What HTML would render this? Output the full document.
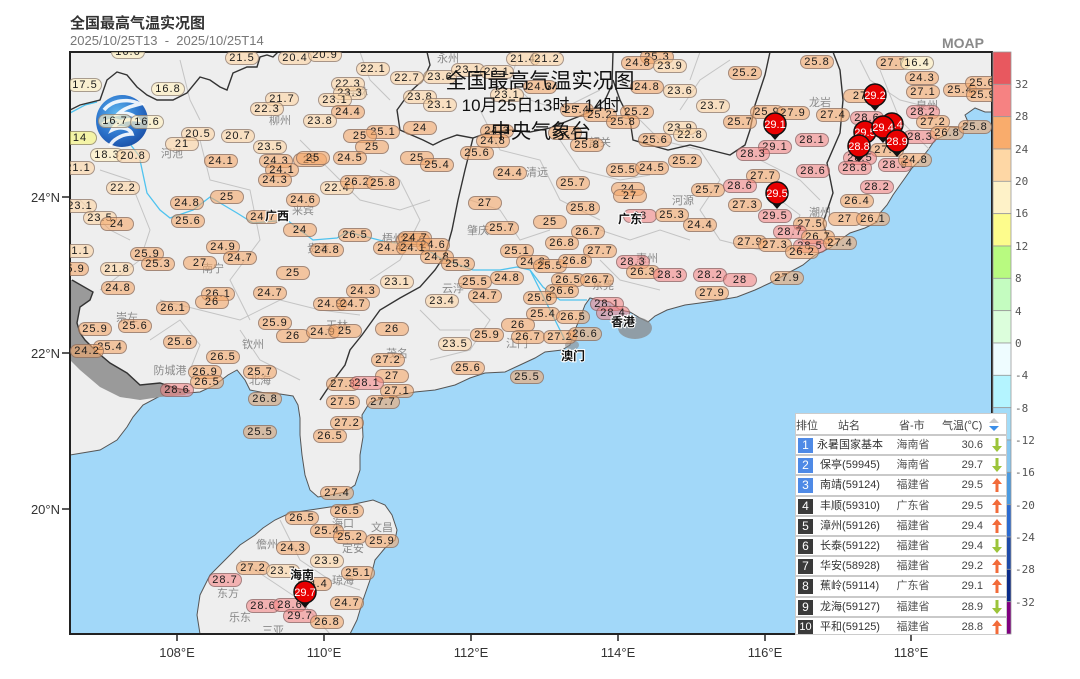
<!DOCTYPE html>
<html><head><meta charset="utf-8">
<style>
*{margin:0;padding:0}
body{width:1080px;height:679px;background:#fff;position:relative;overflow:hidden;font-family:"Liberation Sans","Noto Sans CJK SC",sans-serif}
#clip{position:absolute;left:70px;top:52px;width:922px;height:582px;overflow:hidden}
#inn{position:absolute;left:-70px;top:-52px;width:1080px;height:679px}
#inn b{position:absolute;width:34px;height:14px;margin:-7px 0 0 -17px;border-radius:7px;border:1px solid rgba(100,88,88,.55);box-sizing:border-box;font:11px/12px "Liberation Sans",sans-serif;text-align:center;color:#1a1a1a;font-weight:normal;letter-spacing:1px}
.a{background:rgba(255,240,195,.68)}
.b{background:rgba(253,213,165,.62)}
.c{background:rgba(245,168,106,.6)}
.d{background:rgba(245,128,128,.55)}
.e{background:rgba(248,248,120,.6)}
.t{position:absolute;white-space:nowrap}
#tb{position:absolute;left:795px;top:413px;width:212px;height:222px;background:#fff;border:1px solid #ccc;box-sizing:border-box;overflow:hidden;font:11px "Liberation Sans","Noto Sans CJK SC",sans-serif;color:#444}
#tb .r{position:absolute;left:0;width:212px;height:20px;border-top:2px solid #c9c9c9;box-sizing:border-box}
#tb .k{position:absolute;left:2px;top:2px;width:15px;height:15px;color:#fff;font-size:12px;line-height:15px;text-align:center}
#tb .n{position:absolute;left:21px;top:2px;line-height:15px;color:#333}
#tb .p{position:absolute;left:100px;width:34px;text-align:center;top:2px;line-height:15px;color:#555}
#tb .v{position:absolute;right:25px;top:2px;line-height:15px;color:#444}
#tb .w{position:absolute;left:196px;top:2px}
</style></head><body>

<div class="t" style="left:70px;top:12px;font-size:15px;font-weight:bold;color:#333">全国最高气温实况图</div>
<div class="t" style="left:70px;top:33px;font-size:13px;color:#777">2025/10/25T13 &nbsp;- &nbsp;2025/10/25T14</div>
<div class="t" style="left:942px;top:35px;font-size:14px;font-weight:bold;color:#8a8a8a">MOAP</div>

<svg width="1080" height="679" style="position:absolute;left:0;top:0">
<defs><clipPath id="cp"><rect x="70" y="52" width="922" height="582"/></clipPath>
<radialGradient id="lg" cx="0.4" cy="0.35" r="0.7"><stop offset="0" stop-color="#5fb6ee"/><stop offset="0.6" stop-color="#2c74cc"/><stop offset="1" stop-color="#1b4fa6"/></radialGradient></defs>
<g clip-path="url(#cp)">
<rect x="70" y="52" width="922" height="582" fill="#a2d8f9"/>
<path d="M70,52 L992,52 L992,112 L985,112 L975,108 L965,115 L968,122 L960,128 L950,127 L945,135 L935,140 L928,150 L920,160 L912,168 L905,178 L900,185 L893,195 L887,205 L880,213 L877,222 L865,228 L850,233 L840,240 L830,248 L815,255 L803,265 L790,272 L770,283 L755,290 L737,297 L720,300 L700,303 L685,305 L667,310 L655,316 L648,322 L640,318 L630,312 L620,310 L610,302 L598,300 L590,298 L585,305 L580,318 L575,330 L570,345 L562,350 L545,352 L535,358 L520,365 L505,372 L485,373 L470,378 L455,385 L435,390 L415,392 L400,395 L385,398 L370,402 L362,415 L363,437 L360,455 L360,470 L355,485 L345,492 L330,495 L318,497 L310,490 L305,475 L302,455 L300,435 L300,418 L298,405 L293,396 L280,394 L265,393 L250,390 L245,380 L237,370 L228,375 L215,385 L200,392 L188,393 L160,396 L143,405 L133,417 L127,427 L117,440 L100,450 L70,455 Z" fill="#eeeeee" stroke="#555" stroke-width="1"/>
<path d="M70,280 L72,280 L93,292 L90,300 L80,307 L77,323 L80,333 L85,340 L97,352 L110,363 L127,373 L140,385 L160,383 L175,388 L190,391 L185,395 L160,397 L140,400 L120,397 L100,387 L80,370 L70,360 Z" fill="#9a9a9a"/>
<path d="M263,528 L275,520 L290,513 L310,510 L330,507 L350,505 L373,500 L385,505 L392,515 L397,530 L395,540 L385,548 L375,560 L370,580 L363,600 L357,620 L350,634 L200,634 L197,615 L200,595 L210,575 L225,560 L240,545 L255,535 Z" fill="#eeeeee" stroke="#555" stroke-width="1"/>
<ellipse cx="635" cy="328" rx="17" ry="11" fill="#8a8a8a" opacity=".75"/>
<ellipse cx="572" cy="345" rx="7" ry="5" fill="#8a8a8a" opacity=".6"/>
<g fill="none" stroke="#c4c4c4" stroke-width="1">
<path d="M100,170 L130,180 L150,230 L140,260 L100,290"/>
<path d="M200,140 L210,180 L250,190 L260,240 L230,280 L250,320"/>
<path d="M300,140 L330,170 L360,200 L400,210 L430,200"/>
<path d="M160,300 L200,310 L240,320 L280,300 L320,310 L360,315"/>
<path d="M240,330 L260,360 L300,380"/>
<path d="M380,170 L400,180 L420,220 L400,260 L370,280"/>
<path d="M480,110 L500,150 L540,160 L560,200 L600,220"/>
<path d="M470,200 L500,210 L520,240 L550,230"/>
<path d="M560,140 L580,170 L620,180 L650,175"/>
<path d="M640,120 L660,140 L700,150 L720,180 L700,210 L720,240 L760,250"/>
<path d="M730,60 L700,80 L680,110"/>
<path d="M760,160 L800,180 L820,200"/>
<path d="M860,60 L870,80 L900,100 L940,110"/>
<path d="M470,300 L490,320 L470,350 L430,360"/>
<path d="M600,230 L630,240 L660,230 L690,240"/>
<path d="M280,520 L300,560 L330,580 L360,590"/>
<path d="M240,560 L270,580 L300,600 L330,634"/>
<path d="M80,200 L110,230 L130,240"/>
<path d="M180,60 L190,100 L200,120"/>
<path d="M360,52 L370,80 L390,100"/>
<path d="M520,52 L510,80 L530,100 L560,110 L600,90"/>
<path d="M700,52 L690,80"/>
<path d="M780,200 L800,215 L790,240"/>
<path d="M880,70 L900,120 L930,150"/>
<path d="M420,310 L440,330 L470,330"/>
<path d="M600,260 L620,280 L660,290"/>
<path d="M150,340 L180,320 L200,345 L190,370"/>
</g>
<g fill="none" stroke="#4fc3ef" stroke-width="1.3">
<path d="M140,160 L147,193 L160,210 L170,218 L193,210 L210,197 L237,213 L253,223 L287,220 L313,240 L337,238 L347,232 L387,242 L420,245 L440,258 L473,270 L500,270 L517,267 L530,270 L543,287 L560,300 L587,300"/>
<path d="M530,270 L545,300 L555,320 L565,340"/>
<path d="M120,130 L127,140 L140,157"/>
<path d="M70,113 L85,105 L97,102"/>
</g>
<g fill="none" stroke="#333" stroke-width="1.4">
<path d="M70,110 L80,105 L100,100 L107,80 L117,72 L127,75 L137,87 L147,95 L157,100 L173,100 L187,93 L200,77 L210,80 L220,87 L227,90 L233,73 L247,67 L257,67 L260,57 L267,55 L273,57 L278,52"/>
<path d="M427,52 L430,65 L423,80 L410,92 L397,110 L400,130 L423,140 L433,145 L443,140 L457,135 L473,138 L465,170 L458,200 L452,230 L445,255 L435,270 L420,287 L400,298 L380,310 L362,335 L350,350 L345,365 L330,385 L320,400"/>
<path d="M473,138 L490,132 L510,130 L530,132 L550,128 L570,120 L590,112 L605,100 L612,85 L613,52"/>
<path d="M613,80 L620,100 L630,120 L633,140 L650,145 L668,150 L690,145 L710,150 L730,155 L745,145 L750,130 L755,105 L765,75 L770,52"/>
<path d="M833,52 L840,70 L843,100 L840,133 L827,163 L833,193 L823,223 L830,245"/>
<path d="M72,280 L93,292 L90,300 L80,307 L77,323 L80,333 L85,340 L97,352 L110,363 L127,373 L140,385 L160,383 L175,388 L190,391"/>
</g>
<g font-size="11" fill="#8a8a8a" font-family="Liberation Sans,Noto Sans CJK SC,sans-serif" text-anchor="middle">
<text x="280" y="124">柳州</text><text x="172" y="157">河池</text><text x="303" y="214">来宾</text><text x="318" y="252">贵港</text>
<text x="213" y="272">南宁</text><text x="127" y="321">崇左</text><text x="253" y="348">钦州</text><text x="170" y="374">防城港</text>
<text x="260" y="384">北海</text><text x="337" y="329">玉林</text><text x="393" y="242">梧州</text><text x="397" y="357">茂名</text>
<text x="448" y="62">永州</text><text x="357" y="96">桂林</text><text x="478" y="234">肇庆</text><text x="453" y="292">云浮</text>
<text x="517" y="347">江门</text><text x="537" y="176">清远</text><text x="600" y="146">韶关</text><text x="683" y="204">河源</text>
<text x="647" y="262">惠州</text><text x="603" y="289">东莞</text><text x="820" y="106">龙岩</text><text x="927" y="109">泉州</text>
<text x="820" y="216">潮州</text><text x="343" y="527">海口</text><text x="382" y="531">文昌</text><text x="353" y="552">定安</text>
<text x="267" y="548">儋州</text><text x="343" y="584">琼海</text><text x="228" y="597">东方</text><text x="240" y="621">乐东</text><text x="273" y="634">三亚</text>
</g>
<circle cx="122" cy="121" r="26" fill="url(#lg)"/>
<path d="M104,110 C112,100 128,98 140,104 C132,106 124,108 118,114 C126,112 134,114 138,120 C126,118 116,122 112,130 C120,126 130,128 132,134 C122,134 112,140 110,146" fill="none" stroke="#fff" stroke-width="3.5" opacity=".9"/>
<path d="M102,124 C110,118 118,118 124,124" fill="none" stroke="#cfe9fb" stroke-width="2.5"/>
</g>
<rect x="70" y="52" width="922" height="582" fill="none" stroke="#222" stroke-width="2"/>
<g stroke="#222" stroke-width="1.5">
<line x1="62" y1="197" x2="70" y2="197"/><line x1="62" y1="353" x2="70" y2="353"/><line x1="62" y1="509" x2="70" y2="509"/>
<line x1="177" y1="634" x2="177" y2="641"/><line x1="324" y1="634" x2="324" y2="641"/><line x1="471" y1="634" x2="471" y2="641"/><line x1="618" y1="634" x2="618" y2="641"/><line x1="765" y1="634" x2="765" y2="641"/><line x1="911" y1="634" x2="911" y2="641"/>
</g>
<g font-size="13" fill="#333" font-family="Liberation Sans,sans-serif">
<g text-anchor="end"><text x="60" y="202">24°N</text><text x="60" y="358">22°N</text><text x="60" y="514">20°N</text></g>
<g text-anchor="middle"><text x="177" y="657">108°E</text><text x="324" y="657">110°E</text><text x="471" y="657">112°E</text><text x="618" y="657">114°E</text><text x="765" y="657">116°E</text><text x="911" y="657">118°E</text></g>
</g>
<g stroke="#999" stroke-width="0.8">
<rect x="993" y="52" width="18" height="32.33" fill="#e8585f"/>
<rect x="993" y="84.33" width="18" height="32.33" fill="#f68282"/>
<rect x="993" y="116.67" width="18" height="32.33" fill="#f9ac6c"/>
<rect x="993" y="149" width="18" height="32.33" fill="#fed7a5"/>
<rect x="993" y="181.33" width="18" height="32.33" fill="#fef2c8"/>
<rect x="993" y="213.67" width="18" height="32.33" fill="#fdfc8c"/>
<rect x="993" y="246" width="18" height="32.33" fill="#b8fa80"/>
<rect x="993" y="278.33" width="18" height="32.33" fill="#c4fcc0"/>
<rect x="993" y="310.67" width="18" height="32.33" fill="#dcfedc"/>
<rect x="993" y="343" width="18" height="32.33" fill="#eefcff"/>
<rect x="993" y="375.33" width="18" height="32.33" fill="#b4f4ff"/>
<rect x="993" y="407.67" width="18" height="32.33" fill="#a2dcf8"/>
<rect x="993" y="440" width="18" height="32.33" fill="#86c6f0"/>
<rect x="993" y="472.33" width="18" height="32.33" fill="#4a9ae0"/>
<rect x="993" y="504.67" width="18" height="32.33" fill="#2a6ad0"/>
<rect x="993" y="537" width="18" height="32.33" fill="#1e4aa8"/>
<rect x="993" y="569.33" width="18" height="32.33" fill="#0a2a88"/>
<rect x="993" y="601.67" width="18" height="32.33" fill="#800080"/>
</g>
<g font-size="11" fill="#555" font-family="DejaVu Sans Mono,Liberation Mono,monospace">
<text x="1015" y="88">32</text><text x="1015" y="120">28</text><text x="1015" y="153">24</text><text x="1015" y="185">20</text><text x="1015" y="217">16</text><text x="1015" y="250">12</text><text x="1015" y="282">8</text><text x="1015" y="315">4</text><text x="1015" y="347">0</text><text x="1015" y="379">-4</text><text x="1015" y="412">-8</text><text x="1015" y="444">-12</text><text x="1015" y="476">-16</text><text x="1015" y="509">-20</text><text x="1015" y="541">-24</text><text x="1015" y="573">-28</text><text x="1015" y="606">-32</text>
</g>
</svg>

<div id="clip"><div id="inn">
<b class=a style=left:128px;top:52px>16.6</b>
<b class=a style=left:85px;top:85px>17.5</b>
<b class=a style=left:168px;top:89px>16.8</b>
<b class=a style=left:115px;top:121px>16.7</b>
<b class=a style=left:147px;top:122px>16.6</b>
<b class=e style=left:80px;top:138px>14</b>
<b class=b style=left:198px;top:134px>20.5</b>
<b class=b style=left:182px;top:144px>21</b>
<b class=b style=left:238px;top:136px>20.7</b>
<b class=a style=left:107px;top:155px>18.3</b>
<b class=b style=left:133px;top:156px>20.8</b>
<b class=b style=left:78px;top:168px>21.1</b>
<b class=b style=left:242px;top:58px>21.5</b>
<b class=b style=left:295px;top:58px>20.4</b>
<b class=b style=left:325px;top:55px>20.9</b>
<b class=b style=left:282px;top:99px>21.7</b>
<b class=b style=left:267px;top:109px>22.3</b>
<b class=b style=left:270px;top:147px>23.5</b>
<b class=c style=left:221px;top:161px>24.1</b>
<b class=c style=left:276px;top:161px>24.3</b>
<b class=c style=left:310px;top:160px>25</b>
<b class=c style=left:282px;top:170px>24.1</b>
<b class=c style=left:275px;top:180px>24.3</b>
<b class=b style=left:348px;top:84px>22.3</b>
<b class=b style=left:350px;top:93px>23.3</b>
<b class=b style=left:335px;top:100px>23.1</b>
<b class=c style=left:348px;top:112px>24.4</b>
<b class=b style=left:320px;top:121px>23.8</b>
<b class=b style=left:373px;top:69px>22.1</b>
<b class=b style=left:407px;top:78px>22.7</b>
<b class=b style=left:440px;top:77px>23.6</b>
<b class=b style=left:468px;top:70px>23.1</b>
<b class=b style=left:497px;top:72px>23.1</b>
<b class=b style=left:420px;top:97px>23.8</b>
<b class=b style=left:440px;top:105px>23.1</b>
<b class=b style=left:523px;top:59px>21.4</b>
<b class=b style=left:547px;top:59px>21.2</b>
<b class=c style=left:540px;top:87px>24.3</b>
<b class=b style=left:507px;top:95px>23.1</b>
<b class=c style=left:577px;top:110px>25.4</b>
<b class=c style=left:600px;top:115px>25.2</b>
<b class=c style=left:637px;top:112px>25.2</b>
<b class=c style=left:623px;top:122px>25.8</b>
<b class=c style=left:647px;top:87px>24.8</b>
<b class=b style=left:680px;top:91px>23.6</b>
<b class=b style=left:713px;top:106px>23.7</b>
<b class=c style=left:740px;top:122px>25.7</b>
<b class=c style=left:657px;top:57px>25.3</b>
<b class=c style=left:638px;top:63px>24.8</b>
<b class=b style=left:670px;top:66px>23.9</b>
<b class=c style=left:383px;top:132px>25.1</b>
<b class=c style=left:360px;top:136px>25</b>
<b class=c style=left:372px;top:147px>25</b>
<b class=c style=left:420px;top:128px>24</b>
<b class=c style=left:313px;top:158px>25</b>
<b class=c style=left:350px;top:158px>24.5</b>
<b class=c style=left:417px;top:158px>25</b>
<b class=c style=left:437px;top:165px>25.4</b>
<b class=c style=left:477px;top:153px>25.6</b>
<b class=c style=left:497px;top:131px>24.3</b>
<b class=c style=left:493px;top:141px>24.8</b>
<b class=c style=left:565px;top:133px>25.4</b>
<b class=c style=left:587px;top:145px>25.8</b>
<b class=b style=left:337px;top:188px>22.4</b>
<b class=c style=left:357px;top:182px>26.2</b>
<b class=c style=left:383px;top:183px>25.8</b>
<b class=c style=left:510px;top:173px>24.4</b>
<b class=c style=left:573px;top:183px>25.7</b>
<b class=c style=left:485px;top:203px>27</b>
<b class=c style=left:583px;top:208px>25.8</b>
<b class=c style=left:655px;top:140px>25.6</b>
<b class=b style=left:680px;top:128px>23.9</b>
<b class=b style=left:690px;top:135px>22.8</b>
<b class=c style=left:623px;top:170px>25.5</b>
<b class=c style=left:652px;top:168px>24.5</b>
<b class=c style=left:685px;top:161px>25.2</b>
<b class=c style=left:628px;top:189px>24</b>
<b class=c style=left:630px;top:196px>27</b>
<b class=c style=left:708px;top:190px>25.7</b>
<b class=d style=left:640px;top:216px>28</b>
<b class=c style=left:672px;top:215px>25.3</b>
<b class=c style=left:700px;top:225px>24.4</b>
<b class=b style=left:123px;top:188px>22.2</b>
<b class=b style=left:80px;top:206px>23.1</b>
<b class=b style=left:100px;top:218px>23.5</b>
<b class=c style=left:117px;top:224px>24</b>
<b class=c style=left:187px;top:203px>24.8</b>
<b class=c style=left:188px;top:221px>25.6</b>
<b class=c style=left:227px;top:197px>25</b>
<b class=c style=left:303px;top:200px>24.6</b>
<b class=c style=left:263px;top:217px>24.7</b>
<b class=c style=left:300px;top:230px>24</b>
<b class=c style=left:355px;top:235px>26.5</b>
<b class=c style=left:327px;top:250px>24.8</b>
<b class=c style=left:390px;top:248px>24.4</b>
<b class=c style=left:413px;top:240px>24.6</b>
<b class=b style=left:77px;top:251px>21.1</b>
<b class=c style=left:147px;top:254px>25.9</b>
<b class=c style=left:158px;top:264px>25.3</b>
<b class=b style=left:117px;top:269px>21.8</b>
<b class=c style=left:223px;top:247px>24.9</b>
<b class=c style=left:240px;top:258px>24.7</b>
<b class=c style=left:200px;top:263px>27</b>
<b class=c style=left:72px;top:269px>25.9</b>
<b class=c style=left:118px;top:288px>24.8</b>
<b class=c style=left:293px;top:273px>25</b>
<b class=b style=left:397px;top:282px>23.1</b>
<b class=c style=left:363px;top:291px>24.3</b>
<b class=c style=left:218px;top:294px>26.1</b>
<b class=c style=left:212px;top:302px>26</b>
<b class=c style=left:270px;top:293px>24.7</b>
<b class=c style=left:330px;top:304px>24.9</b>
<b class=c style=left:353px;top:304px>24.7</b>
<b class=c style=left:173px;top:308px>26.1</b>
<b class=c style=left:95px;top:329px>25.9</b>
<b class=c style=left:135px;top:326px>25.6</b>
<b class=c style=left:275px;top:323px>25.9</b>
<b class=c style=left:293px;top:336px>26</b>
<b class=c style=left:323px;top:332px>24.9</b>
<b class=c style=left:345px;top:331px>25</b>
<b class=c style=left:392px;top:329px>26</b>
<b class=c style=left:110px;top:347px>25.4</b>
<b class=c style=left:87px;top:351px>24.2</b>
<b class=c style=left:180px;top:342px>25.6</b>
<b class=c style=left:223px;top:357px>26.5</b>
<b class=c style=left:388px;top:360px>27.2</b>
<b class=c style=left:392px;top:376px>27</b>
<b class=c style=left:205px;top:372px>26.9</b>
<b class=c style=left:207px;top:382px>26.5</b>
<b class=c style=left:260px;top:372px>25.7</b>
<b class=d style=left:177px;top:390px>28.6</b>
<b class=c style=left:343px;top:384px>27.3</b>
<b class=d style=left:367px;top:383px>28.1</b>
<b class=c style=left:397px;top:391px>27.1</b>
<b class=c style=left:265px;top:399px>26.8</b>
<b class=c style=left:343px;top:402px>27.5</b>
<b class=c style=left:383px;top:402px>27.7</b>
<b class=c style=left:260px;top:432px>25.5</b>
<b class=c style=left:347px;top:423px>27.2</b>
<b class=c style=left:330px;top:436px>26.5</b>
<b class=c style=left:337px;top:493px>27.4</b>
<b class=c style=left:347px;top:511px>26.5</b>
<b class=c style=left:302px;top:518px>26.5</b>
<b class=c style=left:327px;top:531px>25.4</b>
<b class=c style=left:350px;top:537px>25.2</b>
<b class=c style=left:382px;top:541px>25.9</b>
<b class=c style=left:293px;top:548px>24.3</b>
<b class=b style=left:327px;top:561px>23.9</b>
<b class=c style=left:253px;top:568px>27.2</b>
<b class=b style=left:283px;top:571px>23.7</b>
<b class=c style=left:358px;top:573px>25.1</b>
<b class=c style=left:315px;top:584px>24.4</b>
<b class=c style=left:347px;top:603px>24.7</b>
<b class=d style=left:225px;top:580px>28.7</b>
<b class=d style=left:263px;top:606px>28.6</b>
<b class=d style=left:290px;top:605px>28.6</b>
<b class=d style=left:300px;top:616px>29.7</b>
<b class=c style=left:327px;top:622px>26.8</b>
<b class=c style=left:502px;top:228px>25.7</b>
<b class=c style=left:550px;top:222px>25</b>
<b class=c style=left:588px;top:232px>26.7</b>
<b class=c style=left:415px;top:238px>24.7</b>
<b class=c style=left:433px;top:245px>24.6</b>
<b class=c style=left:413px;top:248px>24.1</b>
<b class=c style=left:437px;top:257px>24.8</b>
<b class=c style=left:458px;top:264px>25.3</b>
<b class=c style=left:562px;top:243px>26.8</b>
<b class=c style=left:517px;top:251px>25.1</b>
<b class=c style=left:600px;top:251px>27.7</b>
<b class=c style=left:533px;top:262px>24.8</b>
<b class=c style=left:550px;top:266px>25.5</b>
<b class=c style=left:575px;top:261px>26.8</b>
<b class=c style=left:475px;top:282px>25.5</b>
<b class=c style=left:507px;top:278px>24.8</b>
<b class=c style=left:568px;top:280px>26.5</b>
<b class=c style=left:597px;top:280px>26.7</b>
<b class=c style=left:562px;top:291px>26.6</b>
<b class=c style=left:485px;top:296px>24.7</b>
<b class=c style=left:540px;top:298px>25.6</b>
<b class=b style=left:442px;top:301px>23.4</b>
<b class=c style=left:543px;top:314px>25.4</b>
<b class=c style=left:573px;top:317px>26.5</b>
<b class=d style=left:607px;top:304px>28.1</b>
<b class=d style=left:613px;top:313px>28.4</b>
<b class=c style=left:518px;top:325px>26</b>
<b class=c style=left:487px;top:335px>25.9</b>
<b class=c style=left:528px;top:337px>26.7</b>
<b class=c style=left:560px;top:337px>27.2</b>
<b class=c style=left:585px;top:334px>26.6</b>
<b class=b style=left:455px;top:344px>23.5</b>
<b class=c style=left:468px;top:368px>25.6</b>
<b class=c style=left:527px;top:377px>25.5</b>
<b class=d style=left:633px;top:262px>28.3</b>
<b class=c style=left:643px;top:272px>26.3</b>
<b class=d style=left:670px;top:275px>28.3</b>
<b class=d style=left:710px;top:275px>28.2</b>
<b class=c style=left:712px;top:293px>27.9</b>
<b class=c style=left:817px;top:62px>25.8</b>
<b class=c style=left:745px;top:73px>25.2</b>
<b class=c style=left:893px;top:63px>27.7</b>
<b class=a style=left:917px;top:63px>16.4</b>
<b class=c style=left:922px;top:78px>24.3</b>
<b class=c style=left:923px;top:92px>27.1</b>
<b class=c style=left:960px;top:90px>25.4</b>
<b class=c style=left:982px;top:83px>25.6</b>
<b class=c style=left:983px;top:95px>25.9</b>
<b class=c style=left:860px;top:96px>27</b>
<b class=c style=left:767px;top:112px>25.9</b>
<b class=c style=left:793px;top:113px>27.9</b>
<b class=c style=left:833px;top:115px>27.4</b>
<b class=d style=left:923px;top:112px>28.2</b>
<b class=c style=left:933px;top:122px>27.2</b>
<b class=d style=left:775px;top:147px>29.1</b>
<b class=d style=left:753px;top:154px>28.3</b>
<b class=d style=left:812px;top:140px>28.1</b>
<b class=d style=left:920px;top:137px>28.3</b>
<b class=c style=left:947px;top:133px>26.8</b>
<b class=c style=left:975px;top:127px>25.8</b>
<b class=d style=left:867px;top:118px>28.6</b>
<b class=c style=left:887px;top:150px>27.5</b>
<b class=d style=left:860px;top:158px>28.5</b>
<b class=d style=left:855px;top:168px>28.8</b>
<b class=d style=left:895px;top:165px>28.9</b>
<b class=c style=left:915px;top:160px>24.8</b>
<b class=d style=left:813px;top:171px>28.6</b>
<b class=c style=left:763px;top:176px>27.7</b>
<b class=d style=left:740px;top:186px>28.6</b>
<b class=d style=left:877px;top:187px>28.2</b>
<b class=c style=left:745px;top:205px>27.3</b>
<b class=c style=left:857px;top:201px>26.4</b>
<b class=d style=left:775px;top:216px>29.5</b>
<b class=c style=left:810px;top:224px>27.5</b>
<b class=c style=left:845px;top:219px>27</b>
<b class=c style=left:873px;top:219px>26.1</b>
<b class=d style=left:790px;top:232px>28.7</b>
<b class=c style=left:818px;top:237px>26.7</b>
<b class=c style=left:750px;top:242px>27.9</b>
<b class=c style=left:775px;top:245px>27.3</b>
<b class=d style=left:810px;top:246px>28.5</b>
<b class=c style=left:840px;top:243px>27.4</b>
<b class=c style=left:802px;top:252px>26.2</b>
<b class=d style=left:740px;top:280px>28</b>
<b class=c style=left:787px;top:278px>27.9</b>
</div></div>

<svg width="1080" height="679" style="position:absolute;left:0;top:0">
<g font-family="Liberation Sans,Noto Sans CJK SC,sans-serif" font-size="12" fill="#111" text-anchor="middle" font-weight="bold" stroke="#fff" stroke-width="2" paint-order="stroke">
<text x="277" y="220">广西</text><text x="630" y="223">广东</text><text x="623" y="326">香港</text><text x="573" y="360">澳门</text><text x="302" y="579">海南</text>
</g>
<g font-family="Liberation Sans,sans-serif" font-size="11" text-anchor="middle">
<g><path d="M868,103 L875,111 L882,103Z" fill="#111"/><circle cx="875" cy="95" r="11" fill="#e80000" stroke="#111" stroke-width="1.5"/><text x="875" y="99" fill="#fff">29.2</text></g>
<g><path d="M768,132 L775,140 L782,132Z" fill="#111"/><circle cx="775" cy="124" r="11" fill="#e80000" stroke="#111" stroke-width="1.5"/><text x="775" y="128" fill="#fff">29.1</text></g>
<g><path d="M770,201 L777,209 L784,201Z" fill="#111"/><circle cx="777" cy="193" r="11" fill="#e80000" stroke="#111" stroke-width="1.5"/><text x="777" y="197" fill="#fff">29.5</text></g>
<g><path d="M298,600 L305,608 L312,600Z" fill="#111"/><circle cx="305" cy="592" r="11" fill="#e80000" stroke="#111" stroke-width="1.5"/><text x="305" y="596" fill="#fff">29.7</text></g>
<g><path d="M885,132 L892,140 L899,132Z" fill="#111"/><circle cx="892" cy="124" r="11" fill="#e80000" stroke="#111" stroke-width="1.5"/><text x="892" y="128" fill="#fff">29.4</text></g>
<g><path d="M858,140 L865,148 L872,140Z" fill="#111"/><circle cx="865" cy="132" r="11" fill="#e80000" stroke="#111" stroke-width="1.5"/><text x="865" y="136" fill="#fff">29.5</text></g>
<g><path d="M876,135 L883,143 L890,135Z" fill="#111"/><circle cx="883" cy="127" r="11" fill="#e80000" stroke="#111" stroke-width="1.5"/><text x="883" y="131" fill="#fff">29.4</text></g>
<g><path d="M852,154 L859,162 L866,154Z" fill="#111"/><circle cx="859" cy="146" r="11" fill="#e80000" stroke="#111" stroke-width="1.5"/><text x="859" y="150" fill="#fff">28.8</text></g>
<g><path d="M890,149 L897,157 L904,149Z" fill="#111"/><circle cx="897" cy="141" r="11" fill="#e80000" stroke="#111" stroke-width="1.5"/><text x="897" y="145" fill="#fff">28.9</text></g>
</g>
<g font-family="Liberation Sans,Noto Sans CJK SC,sans-serif" fill="#111" text-anchor="middle">
<text x="540" y="88" font-size="21">全国最高气温实况图</text>
<text x="541" y="111" font-size="17">10月25日13时 - 14时</text>
<text x="541" y="138" font-size="20">中央气象台</text>
</g>
</svg>

<div id="tb">
<div class="t" style="left:0;top:3px;color:#444">排位</div>
<div class="t" style="left:42px;top:3px;color:#444">站名</div>
<div class="t" style="left:103px;top:3px;color:#444">省-市</div>
<div class="t" style="left:146px;top:3px;color:#444">气温(℃)</div>
<svg class="t" style="left:192px;top:3px" width="12" height="15"><path d="M1,6 L6,1 L11,6Z" fill="#c8c8c8"/><path d="M1,9 L11,9 L6,14Z" fill="#3b8ee8"/></svg>

<div class="r" style="top:20px"><div class="k" style="background:#4f8ae6">1</div><div class="n">永暑国家基本</div><div class="p">海南省</div><div class="v">30.6</div><svg class="w" width="10" height="14"><path d="M3.5,0 L6.5,0 L6.5,8 L10,8 L5,14 L0,8 L3.5,8Z" fill="#9cc43a"/></svg></div>
<div class="r" style="top:40.2px"><div class="k" style="background:#4f8ae6">2</div><div class="n">&nbsp;保亭(59945)</div><div class="p">海南省</div><div class="v">29.7</div><svg class="w" width="10" height="14"><path d="M3.5,0 L6.5,0 L6.5,8 L10,8 L5,14 L0,8 L3.5,8Z" fill="#9cc43a"/></svg></div>
<div class="r" style="top:60.4px"><div class="k" style="background:#4f8ae6">3</div><div class="n">&nbsp;南靖(59124)</div><div class="p">福建省</div><div class="v">29.5</div><svg class="w" width="10" height="14"><path d="M5,0 L10,6 L6.5,6 L6.5,14 L3.5,14 L3.5,6 L0,6Z" fill="#f26b3a"/></svg></div>
<div class="r" style="top:80.6px"><div class="k" style="background:#3a3a3a">4</div><div class="n">&nbsp;丰顺(59310)</div><div class="p">广东省</div><div class="v">29.5</div><svg class="w" width="10" height="14"><path d="M5,0 L10,6 L6.5,6 L6.5,14 L3.5,14 L3.5,6 L0,6Z" fill="#f26b3a"/></svg></div>
<div class="r" style="top:100.8px"><div class="k" style="background:#3a3a3a">5</div><div class="n">&nbsp;漳州(59126)</div><div class="p">福建省</div><div class="v">29.4</div><svg class="w" width="10" height="14"><path d="M5,0 L10,6 L6.5,6 L6.5,14 L3.5,14 L3.5,6 L0,6Z" fill="#f26b3a"/></svg></div>
<div class="r" style="top:121px"><div class="k" style="background:#3a3a3a">6</div><div class="n">&nbsp;长泰(59122)</div><div class="p">福建省</div><div class="v">29.4</div><svg class="w" width="10" height="14"><path d="M3.5,0 L6.5,0 L6.5,8 L10,8 L5,14 L0,8 L3.5,8Z" fill="#9cc43a"/></svg></div>
<div class="r" style="top:141.2px"><div class="k" style="background:#3a3a3a">7</div><div class="n">&nbsp;华安(58928)</div><div class="p">福建省</div><div class="v">29.2</div><svg class="w" width="10" height="14"><path d="M5,0 L10,6 L6.5,6 L6.5,14 L3.5,14 L3.5,6 L0,6Z" fill="#f26b3a"/></svg></div>
<div class="r" style="top:161.4px"><div class="k" style="background:#3a3a3a">8</div><div class="n">&nbsp;蕉岭(59114)</div><div class="p">广东省</div><div class="v">29.1</div><svg class="w" width="10" height="14"><path d="M5,0 L10,6 L6.5,6 L6.5,14 L3.5,14 L3.5,6 L0,6Z" fill="#f26b3a"/></svg></div>
<div class="r" style="top:181.6px"><div class="k" style="background:#3a3a3a">9</div><div class="n">&nbsp;龙海(59127)</div><div class="p">福建省</div><div class="v">28.9</div><svg class="w" width="10" height="14"><path d="M3.5,0 L6.5,0 L6.5,8 L10,8 L5,14 L0,8 L3.5,8Z" fill="#9cc43a"/></svg></div>
<div class="r" style="top:201.8px"><div class="k" style="background:#3a3a3a;font-size:11px">10</div><div class="n">&nbsp;平和(59125)</div><div class="p">福建省</div><div class="v">28.8</div><svg class="w" width="10" height="14"><path d="M5,0 L10,6 L6.5,6 L6.5,14 L3.5,14 L3.5,6 L0,6Z" fill="#f26b3a"/></svg></div>
</div>

</body></html>
